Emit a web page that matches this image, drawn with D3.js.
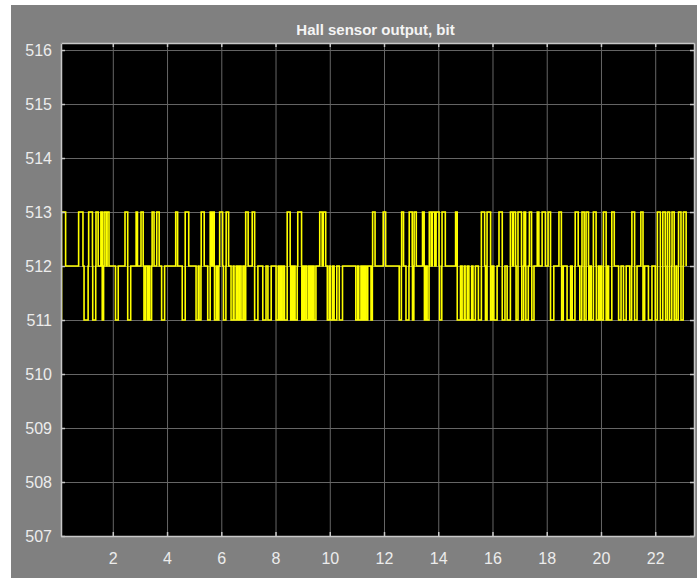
<!DOCTYPE html>
<html lang="en">
<head>
<meta charset="utf-8">
<title>Hall sensor output, bit</title>
<script src="https://d3js.org/d3.v7.min.js"></script>
<style type="text/css">
  body { margin: 0; background: #fff; }
  svg { display: block; font-family: "Liberation Sans", Arial, sans-serif; }
</style>
</head>
<body>
<script type="text/javascript">

// chart data (time in s, levels in bit)
const title = "Hall sensor output, bit";
const baseLevel = 512;
const highLevel = 513;
const lowLevel = 511;
const endTime = 23.14;
const xTicks = [2, 4, 6, 8, 10, 12, 14, 16, 18, 20, 22];
const yTicks = [507, 508, 509, 510, 511, 512, 513, 514, 515, 516];

// [start, end] of every jump up to 513
const highPulses = [
  [0.11, 0.26], [0.74, 0.90], [1.11, 1.25], [1.38, 1.46], [1.56, 1.61], [1.68, 1.75],
  [1.79, 1.86], [2.45, 2.55], [2.86, 2.91], [3.04, 3.12], [3.45, 3.52], [3.62, 3.71],
  [4.32, 4.39], [4.67, 4.80], [5.26, 5.37], [5.59, 5.65], [5.68, 5.74], [5.94, 6.05],
  [6.18, 6.27], [6.90, 6.99], [7.14, 7.23], [8.43, 8.54], [8.82, 8.96], [9.63, 9.72],
  [9.76, 9.85], [11.58, 11.67], [11.97, 12.06], [12.65, 12.72], [12.93, 13.04],
  [13.11, 13.19], [13.42, 13.48], [13.67, 13.74], [13.78, 13.87], [13.92, 14.03],
  [14.14, 14.26], [14.64, 14.70], [15.59, 15.71], [15.80, 15.93], [16.24, 16.36],
  [16.66, 16.74], [16.77, 16.85], [16.94, 17.07], [17.16, 17.22], [17.36, 17.44],
  [17.65, 17.71], [17.83, 17.95], [18.05, 18.14], [18.45, 18.54], [19.05, 19.16],
  [19.30, 19.38], [19.45, 19.54], [19.72, 19.82], [20.09, 20.19], [20.40, 20.49],
  [21.14, 21.24], [21.47, 21.55], [22.08, 22.19], [22.28, 22.37], [22.45, 22.53],
  [22.62, 22.70], [22.86, 22.95], [23.04, 23.14]
];

// [start, end] of every drop down to 511
const lowPulses = [
  [0.00, 0.11], [0.94, 1.09], [1.26, 1.37], [1.61, 1.66], [2.10, 2.20], [2.55, 2.66],
  [3.15, 3.21], [3.28, 3.33], [3.36, 3.43], [3.80, 3.91], [4.56, 4.67], [5.07, 5.15],
  [5.18, 5.25], [5.50, 5.59], [5.75, 5.82], [5.85, 5.91], [6.08, 6.17], [6.36, 6.44],
  [6.47, 6.55], [6.61, 6.67], [6.73, 6.80], [6.84, 6.90], [7.23, 7.35], [7.53, 7.65],
  [7.72, 7.84], [8.02, 8.10], [8.13, 8.19], [8.21, 8.27], [8.33, 8.43], [8.56, 8.61],
  [8.65, 8.70], [8.72, 8.80], [8.97, 9.01], [9.04, 9.09], [9.15, 9.22], [9.26, 9.31],
  [9.35, 9.40], [9.42, 9.49], [9.91, 9.98], [10.02, 10.10], [10.16, 10.26], [10.35, 10.47],
  [10.96, 11.03], [11.07, 11.15], [11.18, 11.23], [11.27, 11.32], [11.34, 11.40],
  [11.52, 11.57], [12.56, 12.64], [12.81, 12.92], [13.05, 13.10], [13.49, 13.55],
  [13.59, 13.66], [14.05, 14.13], [14.70, 14.82], [14.88, 14.96], [14.99, 15.07],
  [15.13, 15.23], [15.28, 15.37], [15.48, 15.59], [15.74, 15.80], [15.93, 15.99],
  [16.05, 16.17], [16.36, 16.46], [16.54, 16.66], [16.87, 16.94], [17.08, 17.15],
  [17.23, 17.32], [17.45, 17.53], [18.14, 18.26], [18.55, 18.61], [18.75, 18.88],
  [18.94, 19.04], [19.22, 19.29], [19.38, 19.45], [19.55, 19.60], [19.64, 19.72],
  [19.83, 19.91], [19.93, 19.99], [20.02, 20.09], [20.19, 20.25], [20.28, 20.40],
  [20.65, 20.74], [20.83, 20.93], [21.06, 21.13], [21.24, 21.33], [21.55, 21.61],
  [21.75, 21.88], [22.00, 22.08], [22.19, 22.28], [22.38, 22.45], [22.53, 22.61],
  [22.70, 22.77], [22.78, 22.85], [22.95, 23.03]
];

// layout
const W = 697, H = 578;
const plot = {left: 61, top: 43, right: 694, bottom: 536};

// turn the pulses into one stair series
const pulses = highPulses.map(p => ({s: p[0], e: p[1], v: highLevel}))
  .concat(lowPulses.map(p => ({s: p[0], e: p[1], v: lowLevel})))
  .sort((a, b) => a.s - b.s);
const series = [];
pulses.forEach((p, i) => {
  series.push({t: p.s, v: p.v});
  const next = pulses[i + 1];
  if (!next || next.s > p.e) series.push({t: p.e, v: baseLevel});
});
series.push({t: endTime, v: baseLevel});

const x = d3.scaleLinear().domain([0.09, 23.43]).range([plot.left, plot.right]);
const y = d3.scaleLinear().domain([507, 516.13]).range([plot.bottom, plot.top]);

const svg = d3.select("body").append("svg")
  .attr("width", W)
  .attr("height", H);

// gray figure background
svg.append("rect")
  .attr("x", 11).attr("y", 5)
  .attr("width", W - 11).attr("height", H - 5)
  .attr("fill", "#808080");

// black axes area
svg.append("rect")
  .attr("x", plot.left).attr("y", plot.top)
  .attr("width", plot.right - plot.left).attr("height", plot.bottom - plot.top)
  .attr("fill", "#000");

// grid
const gridX = svg.append("g")
  .attr("transform", "translate(0," + plot.bottom + ")")
  .call(d3.axisBottom(x).tickValues(xTicks).tickSize(-(plot.bottom - plot.top)).tickFormat(""));
const gridY = svg.append("g")
  .attr("transform", "translate(" + plot.left + ",0)")
  .call(d3.axisLeft(y).tickValues(yTicks).tickSize(-(plot.right - plot.left)).tickFormat(""));
[gridX, gridY].forEach(g => {
  g.select(".domain").remove();
  g.selectAll("line").attr("stroke", "#666").attr("stroke-width", 1);
});

// the signal
svg.append("clipPath").attr("id", "clip")
  .append("rect")
  .attr("x", plot.left).attr("y", plot.top)
  .attr("width", plot.right - plot.left).attr("height", plot.bottom - plot.top);

const line = d3.line()
  .x(d => x(d.t))
  .y(d => y(d.v))
  .curve(d3.curveStepAfter);

svg.append("path")
  .datum(series)
  .attr("clip-path", "url(#clip)")
  .attr("d", line)
  .attr("fill", "none")
  .attr("stroke", "#ffff00")
  .attr("stroke-width", 1.6);

// axes with inward ticks on all four sides
const axisColor = "#c8c8c8";
const labelColor = "#ececec";

const yAxis = svg.append("g")
  .attr("transform", "translate(" + plot.left + ",0)")
  .call(d3.axisLeft(y).tickValues(yTicks).tickSizeInner(-4).tickSizeOuter(0).tickPadding(9));
const xAxis = svg.append("g")
  .attr("transform", "translate(0," + plot.bottom + ")")
  .call(d3.axisBottom(x).tickValues(xTicks).tickSizeInner(-4).tickSizeOuter(0).tickPadding(17));
const yAxisR = svg.append("g")
  .attr("transform", "translate(" + plot.right + ",0)")
  .call(d3.axisRight(y).tickValues(yTicks).tickSizeInner(-4).tickSizeOuter(0).tickFormat(""));
const xAxisT = svg.append("g")
  .attr("transform", "translate(0," + plot.top + ")")
  .call(d3.axisTop(x).tickValues(xTicks).tickSizeInner(-4).tickSizeOuter(0).tickFormat(""));

[yAxis, xAxis, yAxisR, xAxisT].forEach(g => {
  g.select(".domain").attr("stroke", axisColor).attr("stroke-width", 1.5);
  g.selectAll(".tick line").attr("stroke", axisColor).attr("stroke-width", 1.5);
  g.selectAll("text")
    .attr("fill", labelColor)
    .attr("font-size", "16px")
    .attr("font-family", "'Liberation Sans', Arial, sans-serif");
});

// title
svg.append("text")
  .attr("x", (plot.left + plot.right) / 2 - 2)
  .attr("y", 35)
  .attr("text-anchor", "middle")
  .attr("fill", "#f4f4f4")
  .attr("font-size", "15px")
  .attr("font-weight", "bold")
  .text(title);

</script>
</body>
</html>
